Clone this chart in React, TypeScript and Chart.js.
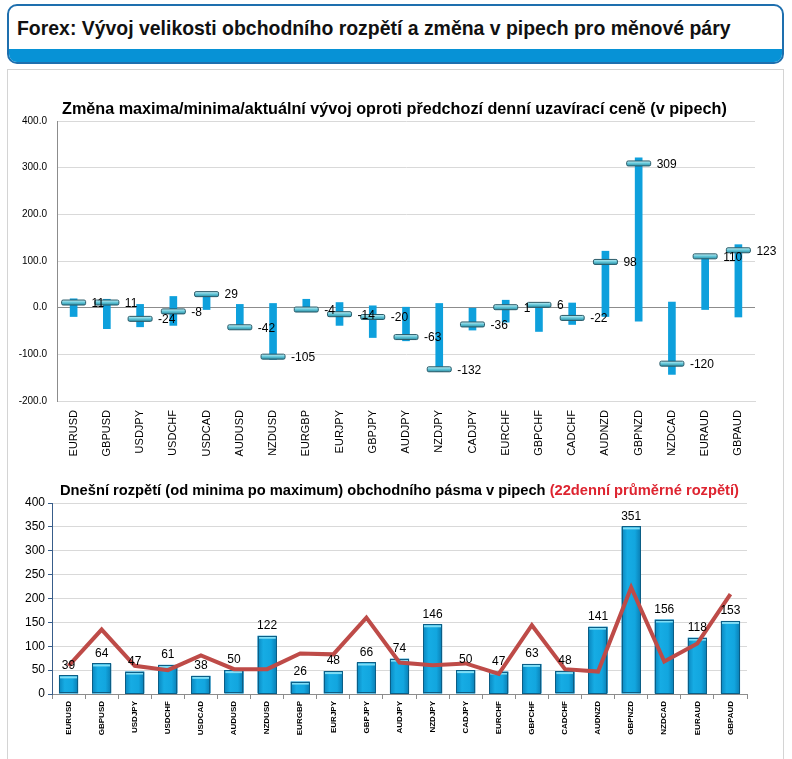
import React, { useEffect, useRef } from "react";
import { Chart, registerables } from "chart.js";
Chart.register(...registerables);

const pairs = ["EURUSD","GBPUSD","USDJPY","USDCHF","USDCAD","AUDUSD","NZDUSD","EURGBP","EURJPY","GBPJPY","AUDJPY","NZDJPY","CADJPY","EURCHF","GBPCHF","CADCHF","AUDNZD","GBPNZD","NZDCAD","EURAUD","GBPAUD"];
const highChange = [19, 18, 7, 24, 30, 7, 9, 18, 11, 4, 1, 9, 0, 16, 8, 10, 121, 321, 12, 112, 135];
const lowChange = [-19, -45, -41, -38, -4, -44, -111, -5, -38, -64, -71, -136, -48, -31, -51, -36, -19, -29, -143, -4, -20];
const currentChange = [11, 11, -24, -8, 29, -42, -105, -4, -14, -20, -63, -132, -36, 1, 6, -22, 98, 309, -120, 110, 123];
const todayRange = [39, 64, 47, 61, 38, 50, 122, 26, 48, 66, 74, 146, 50, 47, 63, 48, 141, 351, 156, 118, 153];
const avgRange22 = [59, 135, 59, 50, 81, 52, 52, 85, 83, 160, 66, 60, 64, 42, 144, 52, 47, 223, 68, 106, 209];
const topTicks = { min: -200, max: 400, step: 100 };
const bottomTicks = { min: 0, max: 400, step: 50 };

const FONT = '"Liberation Sans", Arial, sans-serif';

export default function App() {
  const topRef = useRef<HTMLCanvasElement>(null);
  const botRef = useRef<HTMLCanvasElement>(null);

  useEffect(() => {
    const markerPlugin = {
      id: "markers",
      afterDatasetsDraw(chart: any) {
        const meta = chart.getDatasetMeta(1);
        const ctx = chart.ctx;
        ctx.save();
        meta.data.forEach((pt: any) => {
          const x = pt.x, y = pt.y;
          const w = 24, h = 5;
          const g = ctx.createLinearGradient(0, y - h / 2, 0, y + h / 2);
          g.addColorStop(0, "#C4F1F7");
          g.addColorStop(0.5, "#63C6D8");
          g.addColorStop(1, "#2C8FA5");
          ctx.fillStyle = g;
          ctx.strokeStyle = "#2A5A68";
          ctx.lineWidth = 1;
          ctx.beginPath();
          ctx.roundRect(x - w / 2, y - h / 2, w, h, 1.5);
          ctx.fill();
          ctx.stroke();
        });
        ctx.fillStyle = "#000";
        ctx.font = "12px " + FONT;
        ctx.textBaseline = "middle";
        ctx.textAlign = "left";
        meta.data.forEach((pt: any, i: number) => {
          ctx.fillText(String(currentChange[i]), pt.x + 12 + 6, pt.y + 1);
        });
        ctx.restore();
      },
    };

    const top = new Chart(topRef.current!, {
      type: "bar",
      data: {
        labels: pairs,
        datasets: [
          {
            type: "bar",
            data: pairs.map((_, i) => [lowChange[i], highChange[i]]),
            backgroundColor: "#0EA0DC",
            barThickness: 7,
            borderSkipped: false,
          } as any,
          {
            type: "line",
            data: currentChange,
            showLine: false,
            pointRadius: 0,
            pointHoverRadius: 0,
          } as any,
        ],
      },
      options: {
        animation: false,
        responsive: false,
        layout: { padding: { top: 0, right: 28, left: 0, bottom: 0 } },
        plugins: { legend: { display: false }, tooltip: { enabled: false }, title: { display: false } },
        scales: {
          x: {
            grid: { display: false },
            border: { color: "#D9D9D9" },
            ticks: {
              autoSkip: false,
              maxRotation: 90,
              minRotation: 90,
              color: "#000",
              font: { family: FONT, size: 11 },
              padding: 1,
            },
            afterFit: (s: any) => { s.height = 60; },
          },
          y: {
            min: topTicks.min,
            max: topTicks.max,
            ticks: {
              stepSize: topTicks.step,
              color: "#000",
              font: { family: FONT, size: 10 },
              padding: 10,
              callback: (v: any) => Number(v).toFixed(1),
            },
            grid: {
              drawTicks: false,
              color: (c: any) => (c.tick && c.tick.value === 0 ? "#8C8C8C" : "#D9D9D9"),
            },
            border: { color: "#8C8C8C" },
            afterFit: (s: any) => { s.width = 49; },
          },
        },
      } as any,
      plugins: [markerPlugin],
    });

    const barStylePlugin = {
      id: "barStyle",
      afterDatasetDraw(chart: any, args: any) {
        if (args.index !== 0) return;
        const ctx = chart.ctx;
        const meta = chart.getDatasetMeta(0);
        ctx.save();
        meta.data.forEach((b: any) => {
          const { x, y, base, width } = b.getProps(["x", "y", "base", "width"], true);
          const l = x - width / 2;
          const g = ctx.createLinearGradient(l, 0, l + width, 0);
          g.addColorStop(0, "#0A86BE");
          g.addColorStop(0.3, "#16ACE4");
          g.addColorStop(0.7, "#12A6DF");
          g.addColorStop(1, "#0A7DB3");
          ctx.fillStyle = g;
          ctx.fillRect(l, y, width, base - y);
          ctx.fillStyle = "#7FDDF5";
          ctx.fillRect(l + 1, y + 1, width - 2, 2);
          ctx.strokeStyle = "#0B5E86";
          ctx.lineWidth = 1;
          ctx.strokeRect(Math.round(l) + 0.5, Math.round(y) + 0.5, Math.round(width) - 1, Math.round(base - y) - 1);
        });
        ctx.restore();
      },
    };

    const labelPlugin = {
      id: "barLabels",
      afterDatasetsDraw(chart: any) {
        const meta = chart.getDatasetMeta(0);
        const ctx = chart.ctx;
        ctx.save();
        ctx.fillStyle = "#000";
        ctx.font = "12px " + FONT;
        ctx.textBaseline = "bottom";
        ctx.textAlign = "center";
        meta.data.forEach((b: any, i: number) => {
          ctx.fillText(String(todayRange[i]), b.x, b.y - 4);
        });
        ctx.restore();
      },
    };

    const bot = new Chart(botRef.current!, {
      type: "bar",
      data: {
        labels: pairs,
        datasets: [
          {
            type: "bar",
            data: todayRange,
            backgroundColor: "#0AA2DB",
            borderColor: "#0B6E9C",
            borderWidth: 1,
            categoryPercentage: 1,
            barPercentage: 0.58,
            order: 1,
          } as any,
          {
            type: "line",
            data: avgRange22,
            borderColor: "#BE4B48",
            borderWidth: 4,
            pointRadius: 0,
            tension: 0,
            order: 0,
          } as any,
        ],
      },
      options: {
        animation: false,
        responsive: false,
        layout: { padding: { top: 11, right: 36, left: 0, bottom: 0 } },
        plugins: { legend: { display: false }, tooltip: { enabled: false }, title: { display: false } },
        scales: {
          x: {
            grid: { drawOnChartArea: false, tickLength: 5, color: "#8C8C8C" },
            border: { color: "#8C8C8C" },
            ticks: {
              autoSkip: false,
              maxRotation: 90,
              minRotation: 90,
              color: "#000",
              font: { family: FONT, size: 8, weight: "bold" },
              padding: 2,
            },
            afterFit: (s: any) => { s.height = 60; },
          },
          y: {
            min: bottomTicks.min,
            max: bottomTicks.max,
            ticks: {
              stepSize: bottomTicks.step,
              color: "#000",
              font: { family: FONT, size: 12 },
              padding: 3,
            },
            grid: { color: "#D9D9D9", tickLength: 4, tickColor: "#385D8A" },
            border: { color: "#385D8A" },
            afterFit: (s: any) => { s.width = 44; },
          },
        },
      } as any,
      plugins: [barStylePlugin, labelPlugin],
    });

    return () => {
      top.destroy();
      bot.destroy();
    };
  }, []);

  return (
    <div style={{ position: "absolute", left: 0, top: 0, width: 792, height: 759, overflow: "hidden", background: "#fff", fontFamily: FONT }}>
      <div style={{ position: "absolute", left: 7, top: 4, width: 777, height: 60, border: "2px solid #1E6FAE", borderRadius: 10, overflow: "hidden", boxSizing: "border-box", background: "#fff" }}>
        <div style={{ position: "absolute", left: 0, right: 0, bottom: 0, height: 13, background: "#0792D6" }} />
        <div style={{ position: "absolute", left: 8, top: 10, fontSize: 21, fontWeight: "bold", color: "#111", whiteSpace: "nowrap", lineHeight: "24px", transform: "scaleX(0.925)", transformOrigin: "left center" }}>
          Forex: Vývoj velikosti obchodního rozpětí a změna v pipech pro měnové páry
        </div>
      </div>
      <div style={{ position: "absolute", left: 7, top: 69, width: 777, height: 720, border: "1px solid #D4D4D4", boxSizing: "border-box" }} />
      <canvas ref={topRef} width={775} height={356} style={{ position: "absolute", left: 8, top: 105, width: 775, height: 356 }} />
      <div style={{ position: "absolute", left: 62, top: 98, fontSize: 16.2, fontWeight: "bold", color: "#000", whiteSpace: "nowrap", lineHeight: "20px" }}>
        Změna maxima/minima/aktuální vývoj oproti předchozí denní uzavírací ceně (v pipech)
      </div>
      <canvas ref={botRef} width={775} height={262} style={{ position: "absolute", left: 8, top: 492, width: 775, height: 262 }} />
      <div style={{ position: "absolute", left: 60, top: 480, fontSize: 14.7, fontWeight: "bold", color: "#000", whiteSpace: "nowrap", lineHeight: "20px" }}>
        Dnešní rozpětí (od minima po maximum) obchodního pásma v pipech <span style={{ color: "#DE2430" }}>(22denní průměrné rozpětí)</span>
      </div>
    </div>
  );
}
